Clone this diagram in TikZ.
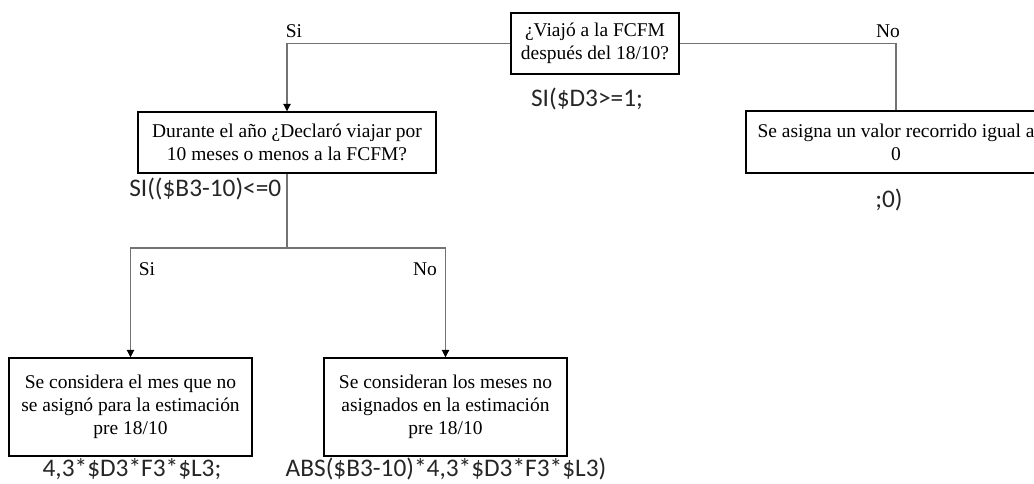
\documentclass[tikz,border=0pt]{standalone}
\usepackage{fontspec}
\setmainfont{Liberation Serif}
\newfontfamily\formulafont{Carlito}
\usetikzlibrary{arrows.meta}

\begin{document}
\begin{tikzpicture}[x=0.75pt,y=-0.75pt,
    box/.style={draw,line width=1.1pt,align=center,inner sep=0pt,font=\fontsize{14.6}{17.3}\selectfont},
    formula/.style={inner sep=0pt,text=black!85,font=\formulafont\fontsize{19}{23}\selectfont},
    branch/.style={inner sep=0pt,font=\fontsize{14.6}{17.3}\selectfont},
    link/.style={draw=black!55,line width=0.8pt},
    flow/.style={link,-{Triangle[length=5.5pt,width=5.5pt,color=black]}}]
    \useasboundingbox (0,0) rectangle (1034,484);
    \clip (0,0) rectangle (1034,484);

    % questions
    \node [box,minimum width=126pt,minimum height=45.75pt] (q1) at (595,43.5) {¿Viajó a la FCFM\\después del 18/10?};
    \node [box,minimum width=223.5pt,minimum height=45.75pt] (q2) at (287,142.5) {Durante el año ¿Declaró viajar por\\10 meses o menos a la FCFM?};
    \node [box,minimum width=225pt,minimum height=46.5pt] (r0) at (896,142) {Se asigna un valor recorrido igual a\\0};

    % results
    \node [box,minimum width=182.25pt,minimum height=73.5pt] (a1) at (130.5,407) {Se considera el mes que no\\se asignó para la estimación\\pre 18/10};
    \node [box,minimum width=182.25pt,minimum height=73.5pt] (a2) at (445.5,407) {Se consideran los meses no\\asignados en la estimación\\pre 18/10};

    % formulas
    \node [formula] (f1) at (587,99) {SI(\$D3>=1;};
    \node [formula,anchor=west] (f2) at (129,189) {SI((\$B3-10)<=0};
    \node [formula] (f3) at (889,200) {;0)};
    \node [formula] (f4) at (132,469) {4,3*\$D3*F3*\$L3;};
    \node [formula] (f5) at (446,469) {ABS(\$B3-10)*4,3*\$D3*F3*\$L3)};

    % branches
    \node [branch] (s1) at (294,31) {Si};
    \node [branch] (n1) at (888,31) {No};
    \node [branch] (s2) at (147,269) {Si};
    \node [branch] (n2) at (425,269) {No};

    \coordinate (split) at (q2.south |- 0,248);
    \draw [flow] (q1.west) -| (q2.north);
    \draw [link] (q1.east) -| (r0.north);
    \draw [link] (q2.south) -- (split);
    \draw [flow] (split) -| (a1.north);
    \draw [flow] (split) -| (a2.north);

\end{tikzpicture}
\end{document}
